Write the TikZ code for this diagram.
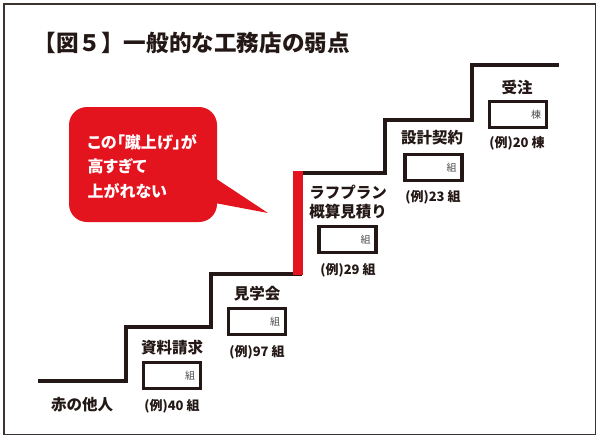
\documentclass[tikz,border=0pt]{standalone}
\usepackage{fontspec}
\setmainfont{Noto Sans CJK JP}
\usepackage{xcolor}
\usepackage{tikz}
\usetikzlibrary{positioning}

\definecolor{stepred}{HTML}{E3141E}
\definecolor{inkblack}{HTML}{231815}
\definecolor{framegray}{HTML}{3B3330}

\begin{document}
\begin{tikzpicture}[x=1pt, y=-1pt,
    stair/.style={line width=4pt, inkblack},
    countbox/.style={draw=inkblack, line width=3.5pt, fill=white,
        minimum width=57pt, minimum height=26pt, text width=46pt,
        align=right, inner sep=0pt, font=\fontsize{10}{11}\selectfont, text=black!70},
    steplabel/.style={font=\bfseries\fontsize{15.5}{19}\selectfont, text=inkblack, align=center},
    example/.style={font=\bfseries\fontsize{13}{15}\selectfont, text=inkblack}]
\useasboundingbox (0,0) rectangle (600,439);
\draw[framegray, line width=1.5pt] (4,4) rectangle (595.5,434.5);

% Title
\node[anchor=west, font=\bfseries\fontsize{22.6}{24}\selectfont, text=inkblack] (title) at (30,43) {【図５】一般的な工務店の弱点};

% Staircase
\draw[stair] (38,381) -| (126,327) -| (211,274) -| (300,173) -| (385,120) -| (472,65) -- (559,65);
\draw[stepred, line width=10pt] (298,171) -- (298,275);

% Speech bubble
\fill[stepred, rounded corners=18pt] (69,107) rectangle (217,222);
\fill[stepred] (215,178) -- (268,213) -- (215,203) -- cycle;
\node[anchor=west, align=left, text=white, font=\bfseries\fontsize{16}{24.5}\selectfont\addfontfeatures{RawFeature=+palt}] (bubble) at (84,166.5) {この「蹴上げ」が\\高すぎて\\上がれない};

% Steps
\node[steplabel] (stranger) at (82,405) {赤の他人};

\node[countbox] (request) at (172,375.5) {組};
\node[steplabel] (requestlabel) at (172,348) {資料請求};
\node[example] (requestnum) at (172,406) {(例)40 組};

\node[countbox] (visit) at (257,321.5) {組};
\node[steplabel] (visitlabel) at (257,294) {見学会};
\node[example] (visitnum) at (257,352) {(例)97 組};

\node[countbox] (plan) at (347.5,239.5) {組};
\node[steplabel] (planlabel) at (348,202.5) {ラフプラン\\概算見積り};
\node[example] (plannum) at (348,270) {(例)29 組};

\node[countbox] (contract) at (433.5,167.5) {組};
\node[steplabel] (contractlabel) at (432,138) {設計契約};
\node[example] (contractnum) at (433,197) {(例)23 組};

\node[countbox] (order) at (518,114.5) {棟};
\node[steplabel] (orderlabel) at (517,87) {受注};
\node[example] (ordernum) at (517,143) {(例)20 棟};
\end{tikzpicture}
\end{document}
